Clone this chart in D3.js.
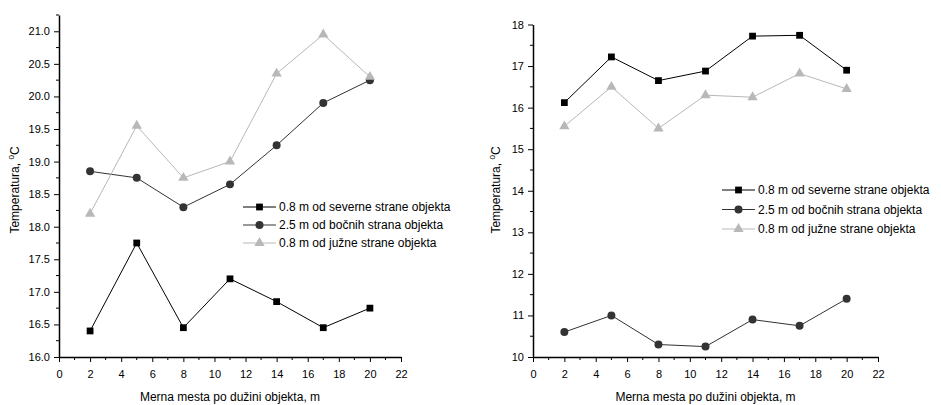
<!DOCTYPE html>
<html><head><meta charset="utf-8">
<script src="https://cdnjs.cloudflare.com/ajax/libs/d3/7.8.5/d3.min.js"></script>
<style>
body{margin:0;background:#fff;}
text{font-family:"Liberation Sans",Arial,sans-serif;}
</style></head>
<body>
<script>
const positions = [2, 5, 8, 11, 14, 17, 20];
const seriesNames = ["0.8 m od severne strane objekta", "2.5 m od bočnih strana objekta", "0.8 m od južne strane objekta"];
// Left chart
const leftNorth = [16.4, 17.75, 16.45, 17.2, 16.85, 16.45, 16.75];
const leftSide  = [18.85, 18.75, 18.3, 18.65, 19.25, 19.9, 20.25];
const leftSouth = [18.2, 19.55, 18.75, 19.0, 20.35, 20.95, 20.3];
// Right chart
const rightNorth = [16.12, 17.22, 16.65, 16.88, 17.72, 17.74, 16.9];
const rightSide  = [10.6, 11.0, 10.3, 10.25, 10.9, 10.75, 11.4];
const rightSouth = [15.55, 16.5, 15.5, 16.3, 16.25, 16.82, 16.45];
const xTicks = [0,2,4,6,8,10,12,14,16,18,20,22];
const leftYTicks = [16.0,16.5,17.0,17.5,18.0,18.5,19.0,19.5,20.0,20.5,21.0];
const rightYTicks = [10,11,12,13,14,15,16,17,18];
const xTitle = "Merna mesta po dužini objekta, m";

const styles = [
  {line:"#000", fill:"#000", shape:d3.symbolSquare, size:46},
  {line:"#333", fill:"#333", shape:d3.symbolCircle, size:50},
  {line:"#b8b8b8", fill:"#b8b8b8", shape:d3.symbolTriangle, size:46}
];

const svg = d3.select("body").append("svg").attr("width",941).attr("height",405);

function chart(cfg){
  const g = svg.append("g");
  const x = d3.scaleLinear().domain([0,22]).range([cfg.x0, cfg.x1]);
  const y = d3.scaleLinear().domain(cfg.ydom).range([cfg.y0, cfg.y1]);
  const xMinor = d3.range(0,22.01,1).filter(v=>v%2!==0);
  g.selectAll(".xm").data(xMinor).enter().append("line")
    .attr("x1",d=>x(d)).attr("x2",d=>x(d)).attr("y1",cfg.y0).attr("y2",cfg.y0+3)
    .attr("stroke","#000").attr("stroke-width",1);
  g.selectAll(".ym").data(cfg.yMinor).enter().append("line")
    .attr("y1",d=>y(d)).attr("y2",d=>y(d)).attr("x1",cfg.x0).attr("x2",cfg.x0-3)
    .attr("stroke","#000").attr("stroke-width",1);
  const xa = g.append("g").attr("transform",`translate(0,${cfg.y0})`)
    .call(d3.axisBottom(x).tickValues(xTicks).tickSize(5).tickPadding(8).tickSizeOuter(0).tickFormat(d3.format("d")));
  const ya = g.append("g").attr("transform",`translate(${cfg.x0},0)`)
    .call(d3.axisLeft(y).tickValues(cfg.yticks).tickSize(5).tickPadding(4).tickSizeOuter(0).tickFormat(cfg.fmt));
  [xa,ya].forEach(a=>{
    a.select(".domain").attr("stroke","#000").attr("stroke-width",1.5);
    a.selectAll(".tick line").attr("stroke","#000").attr("stroke-width",1);
    a.selectAll("text").attr("font-size",11).attr("fill","#000").attr("font-family","Liberation Sans, Arial, sans-serif");
  });
  g.append("text").attr("x",(cfg.x0+cfg.x1)/2).attr("y",401).attr("text-anchor","middle")
    .attr("font-size",12).text(xTitle);
  const yt = g.append("text").attr("transform",`translate(${cfg.ytx},${190}) rotate(-90)`)
    .attr("text-anchor","middle").attr("font-size",12);
  yt.append("tspan").text("Temperatura, ");
  yt.append("tspan").attr("font-size",8).attr("dy",-5).text("0");
  yt.append("tspan").attr("dy",5).text("C");
  const line = d3.line().x((d,i)=>x(positions[i])).y(d=>y(d));
  cfg.data.forEach((vals,k)=>{
    const s = styles[k];
    g.append("path").datum(vals).attr("d",line).attr("fill","none").attr("stroke",s.line).attr("stroke-width",1);
    g.selectAll(null).data(vals).enter().append("path")
      .attr("d",d3.symbol().type(s.shape).size(s.size))
      .attr("transform",(d,i)=>`translate(${x(positions[i])},${y(d)})`)
      .attr("fill",s.fill);
  });
  seriesNames.forEach((n,k)=>{
    const s = styles[k];
    const ly = cfg.ly + k*cfg.lstep;
    g.append("line").attr("x1",cfg.lx).attr("x2",cfg.lx+33).attr("y1",ly).attr("y2",ly)
      .attr("stroke",s.line).attr("stroke-width",1);
    g.append("path").attr("d",d3.symbol().type(s.shape).size(s.size))
      .attr("transform",`translate(${cfg.lx+16.5},${ly})`).attr("fill",s.fill);
    g.append("text").attr("x",cfg.lx+36).attr("y",ly+4).attr("font-size",12).text(n);
  });
}

chart({x0:59,x1:401,y0:357,y1:15,ydom:[16,21.25],yticks:leftYTicks,
  yMinor:d3.range(16.25,21.26,0.5),fmt:d3.format(".1f"),ytx:19,
  data:[leftNorth,leftSide,leftSouth],lx:243,ly:207,lstep:18});
chart({x0:533,x1:878,y0:357,y1:24.5,ydom:[10,18],yticks:rightYTicks,
  yMinor:d3.range(10.5,18,1),fmt:d3.format("d"),ytx:500,
  data:[rightNorth,rightSide,rightSouth],lx:722,ly:190,lstep:19.5});
</script>
</body></html>
